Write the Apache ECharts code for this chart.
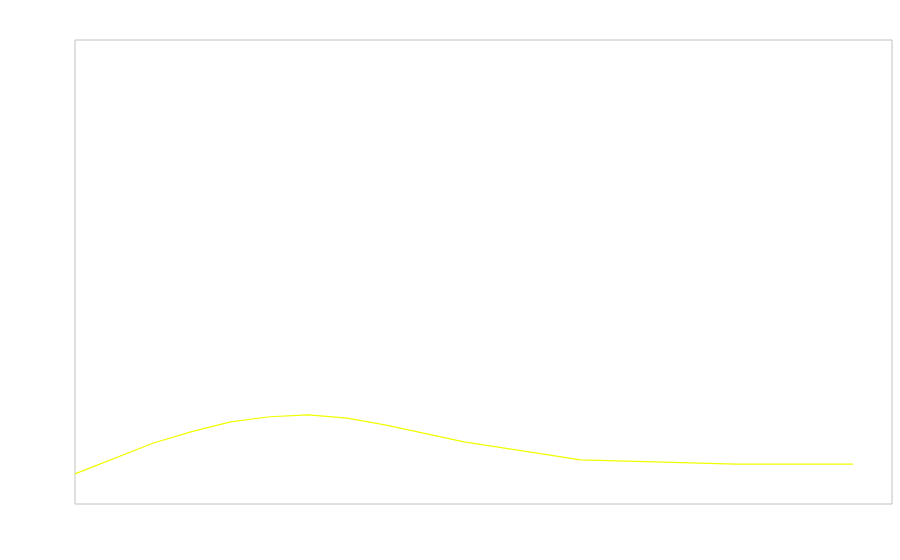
<!DOCTYPE html>
<html>
<head>
<meta charset="utf-8">
<script src="https://cdn.jsdelivr.net/npm/echarts@6/dist/echarts.min.js"></script>
<style>
  html, body { margin: 0; padding: 0; background: #fff; }
  #chart { width: 900px; height: 560px; }
</style>
</head>
<body>
<div id="chart"></div>
<script>
// values
var xValues = [0, 10, 15, 20, 25, 30, 35, 40, 50, 65, 85, 100];
var yValues = [6.5, 13.1, 15.6, 17.7, 18.8, 19.2, 18.5, 17, 13.4, 9.5, 8.6, 8.6];

var chart = echarts.init(document.getElementById('chart'));

var option = {
    animation: false,
    grid: {
        show: true,
        left: 75,
        right: 8,
        top: 40,
        bottom: 56,
        borderColor: '#c0c0c0',
        borderWidth: 1,
        backgroundColor: 'transparent'
    },
    xAxis: {
        type: 'value',
        min: 0,
        max: 105,
        show: false
    },
    yAxis: {
        type: 'value',
        min: 0,
        max: 100,
        show: false
    },
    series: [
        {
            type: 'line',
            data: xValues.map(function (x, i) { return [x, yValues[i]]; }),
            showSymbol: false,
            lineStyle: { color: '#f0ff00', width: 1.2 },
            itemStyle: { color: '#f0ff00' }
        }
    ]
};

chart.setOption(option);
</script>
</body>
</html>
